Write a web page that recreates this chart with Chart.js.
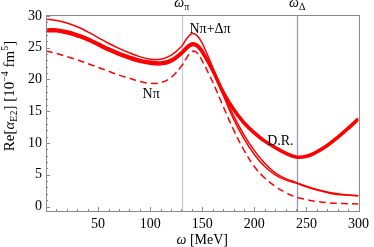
<!DOCTYPE html>
<html lang="en">
  <head>
    <meta charset="UTF-8" />
    <title>Re alpha E2</title>
    <style>
      html, body { margin: 0; padding: 0; background: #fff; }
      #box { width: 374px; height: 247px; }
    </style>
  </head>
  <body>
    <div id="box"><canvas id="myChart" width="374" height="247"></canvas></div>
    <script src="https://cdn.jsdelivr.net/npm/chart.js"></script>
    <script>
      // photon energy grid (MeV)
      const omega = [0, 10, 20, 30, 40, 50, 60, 70, 80, 90, 100, 110, 120, 130, 135, 140, 145, 150,
        160, 170, 180, 190, 200, 210, 220, 230, 240, 250, 260, 270, 280, 290, 300];
      // D.R. (thick)
      const valDR = [27.8, 27.8, 27.5, 27.0, 26.4, 25.6, 24.8, 24.1, 23.5, 23.0, 22.7, 22.6, 23.0, 24.2, 25.0, 25.6, 25.4, 24.4,
        21.5, 18.0, 15.3, 13.2, 11.6, 10.3, 9.3, 8.4, 7.8, 7.9, 8.6, 9.6, 10.9, 12.3, 13.8];
      // N pi + Delta pi (thin, upper)
      const valNpiDpi = [29.5, 29.3, 28.9, 28.3, 27.5, 26.6, 25.7, 24.9, 24.2, 23.6, 23.2, 23.2, 23.8, 25.2, 26.4, 27.2, 26.9, 25.7,
        21.9, 17.6, 13.8, 10.7, 8.2, 6.3, 5.0, 4.2, 3.7, 3.1, 2.6, 2.2, 1.9, 1.8, 1.7];
      // second thin curve
      const valThin2 = [27.5, 27.5, 27.2, 26.7, 26.1, 25.3, 24.5, 23.8, 23.2, 22.7, 22.4, 22.3, 22.7, 23.9, 24.7, 25.3, 25.1, 24.1,
        21.2, 17.7, 14.3, 11.3, 8.8, 6.8, 5.3, 4.4, 3.8, 3.2, 2.7, 2.3, 2.0, 1.8, 1.7];
      // N pi (dashed)
      const valNpi = [24.5, 24.1, 23.6, 23.1, 22.5, 21.9, 21.3, 20.7, 20.2, 19.7, 19.4, 19.5, 20.3, 22.1, 23.4, 24.4, 24.2, 22.9,
        19.6, 15.8, 12.1, 8.9, 6.3, 4.5, 3.2, 2.2, 1.5, 1.1, 0.8, 0.6, 0.5, 0.45, 0.4];

      const xTicks = [50, 100, 150, 200, 250, 300];
      const yTicks = [0, 5, 10, 15, 20, 25, 30];
      const thresholds = [130.3, 241.2];
      const thresholdSubs = ["π", "Δ"];
      const thresholdColors = ["#c4c4e6", "#9090d8"];
      const curveLabels = ["Nπ+Δπ", "Nπ", "D.R."];
      const curveLabelAt = [[157.5, 27.9], [101, 17.6], [225, 10.2]];

      const serif = "'Liberation Serif', 'DejaVu Serif', serif";

      function pts(vals) {
        return omega.map((w, i) => ({ x: w, y: vals[i] }));
      }

      const deco = {
        id: "deco",
        beforeDatasetsDraw(chart) {
          const c = chart.ctx, a = chart.chartArea, xs = chart.scales.x;
          c.save();
          c.lineWidth = 1.2;
          thresholds.forEach((t, i) => {
            const px = Math.round(xs.getPixelForValue(t)) + 0.5;
            c.strokeStyle = thresholdColors[i];
            c.beginPath();
            c.moveTo(px, a.top);
            c.lineTo(px, a.bottom);
            c.stroke();
          });
          c.restore();
        },
        afterDatasetsDraw(chart) {
          const c = chart.ctx, a = chart.chartArea, xs = chart.scales.x, ys = chart.scales.y;
          c.save();
          // frame
          c.strokeStyle = "#8a8a8a";
          c.lineWidth = 1;
          c.strokeRect(Math.round(a.left) + 0.5, Math.round(a.top) + 0.5,
            Math.round(a.right - a.left), Math.round(a.bottom - a.top));
          // inward ticks
          c.beginPath();
          for (let v = 10; v < 300; v += 10) {
            const px = Math.round(xs.getPixelForValue(v)) + 0.5;
            const len = v % 50 === 0 ? 4 : 2;
            c.moveTo(px, a.bottom);
            c.lineTo(px, a.bottom - len);
          }
          for (let v = 0; v <= 30; v += 1) {
            const py = Math.round(ys.getPixelForValue(v)) + 0.5;
            const len = v % 5 === 0 ? 4 : 2;
            c.moveTo(a.left, py);
            c.lineTo(a.left + len, py);
          }
          c.stroke();

          c.fillStyle = "#000";
          c.textBaseline = "alphabetic";
          // threshold labels on top
          thresholds.forEach((t, i) => {
            const px = xs.getPixelForValue(t);
            c.font = "italic 14px " + serif;
            const w1 = c.measureText("ω").width;
            c.font = "10px " + serif;
            const w2 = c.measureText(thresholdSubs[i]).width;
            const x0 = px - (w1 + w2) / 2;
            c.font = "italic 14px " + serif;
            c.fillText("ω", x0, 7);
            c.font = "10px " + serif;
            c.fillText(thresholdSubs[i], x0 + w1, 10);
          });
          // curve labels
          c.font = "14px " + serif;
          c.textAlign = "center";
          c.textBaseline = "middle";
          curveLabels.forEach((s, i) => {
            c.fillText(s, xs.getPixelForValue(curveLabelAt[i][0]), ys.getPixelForValue(curveLabelAt[i][1]));
          });
          // x title
          c.textBaseline = "alphabetic";
          c.textAlign = "left";
          c.font = "italic 14px " + serif;
          const wOm = c.measureText("ω ").width;
          c.font = "14px " + serif;
          const wRest = c.measureText("[MeV]").width;
          const xc = (a.left + a.right) / 2;
          const xx = xc - (wOm + wRest) / 2;
          c.font = "italic 14px " + serif;
          c.fillText("ω ", xx, 244);
          c.font = "14px " + serif;
          c.fillText("[MeV]", xx + wOm, 244);
          // y title (rotated, with sub/superscripts)
          const segs = [
            ["Re[", "15px", 0], ["α", "italic 15px", 0], ["E2", "10px", 3],
            ["] [10", "15px", 0], ["−4", "10px", -6], [" fm", "15px", 0], ["5", "10px", -6], ["]", "15px", 0]
          ];
          let total = 0;
          segs.forEach((s) => { c.font = s[1] + " " + serif; total += c.measureText(s[0]).width; });
          c.translate(14, 96);
          c.rotate(-Math.PI / 2);
          let sx = -total / 2;
          segs.forEach((s) => {
            c.font = s[1] + " " + serif;
            c.fillText(s[0], sx, s[2]);
            sx += c.measureText(s[0]).width;
          });
          c.restore();
        }
      };

      const red = "#ff0000";
      const data = {
        datasets: [
          { label: "Nπ+Δπ", data: pts(valNpiDpi), borderColor: red, borderWidth: 1.5 },
          { label: "thin", data: pts(valThin2), borderColor: red, borderWidth: 1.5 },
          { label: "Nπ", data: pts(valNpi), borderColor: red, borderWidth: 1.5, borderDash: [7, 4] },
          { label: "D.R.", data: pts(valDR), borderColor: red, borderWidth: 3.6 }
        ]
      };

      const config = {
        type: "line",
        data,
        options: {
          responsive: false,
          animation: false,
          events: [],
          layout: { padding: { top: 15, right: 12, left: 0, bottom: 0 } },
          elements: { point: { radius: 0 }, line: { tension: 0.4, fill: false } },
          plugins: { legend: { display: false }, tooltip: { enabled: false } },
          scales: {
            x: {
              type: "linear", min: 0, max: 300,
              afterBuildTicks: (s) => { s.ticks = xTicks.map((v) => ({ value: v })); },
              afterFit: (s) => { s.height = 36; },
              grid: { display: false, drawTicks: false },
              border: { display: false },
              ticks: { padding: 5, color: "#000", maxRotation: 0, font: { family: serif, size: 14 } }
            },
            y: {
              type: "linear", min: -0.7, max: 30.15,
              afterBuildTicks: (s) => { s.ticks = yTicks.map((v) => ({ value: v })); },
              afterFit: (s) => { s.width = 46; },
              grid: { display: false, drawTicks: false },
              border: { display: false },
              ticks: { padding: 4, color: "#000", font: { family: serif, size: 14 } }
            }
          }
        },
        plugins: [deco]
      };

      new Chart(document.getElementById("myChart"), config);
    </script>
  </body>
</html>
